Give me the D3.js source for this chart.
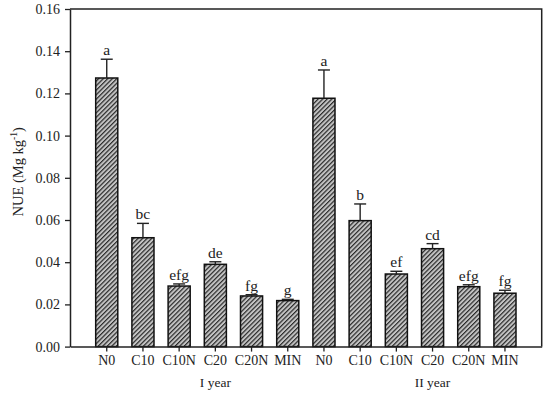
<!DOCTYPE html>
<html>
<head>
<meta charset="utf-8">
<script src="https://cdn.jsdelivr.net/npm/d3@7"></script>
<style>
  html, body { margin: 0; padding: 0; background: #fff; }
  svg text { font-family: "Liberation Serif", "Times New Roman", serif; fill: #222; }
</style>
</head>
<body>
<svg id="chart" width="550" height="396"></svg>
<script>
// data
const years = ["I year", "II year"]
const treatments = ["N0", "C10", "C10N", "C20", "C20N", "MIN"]
const nueI = [0.1273, 0.0516, 0.0287, 0.0390, 0.0240, 0.0218]
const errI = [0.0089, 0.0068, 0.0010, 0.0012, 0.0006, 0.0006]
const lettersI = ["a", "bc", "efg", "de", "fg", "g"]
const nueII = [0.1177, 0.0597, 0.0344, 0.0464, 0.0284, 0.0253]
const errII = [0.0134, 0.0079, 0.0013, 0.0024, 0.0009, 0.0014]
const lettersII = ["a", "b", "ef", "cd", "efg", "fg"]
const yTicks = [0, 0.02, 0.04, 0.06, 0.08, 0.10, 0.12, 0.14, 0.16]

let rows = []
treatments.forEach((t, i) => rows.push({ key: "I-" + t, year: years[0], t, v: nueI[i], e: errI[i], l: lettersI[i] }))
treatments.forEach((t, i) => rows.push({ key: "II-" + t, year: years[1], t, v: nueII[i], e: errII[i], l: lettersII[i] }))

let margin = { left: 70, right: 8.3, top: 9, bottom: 49.4 }
let W = 550, H = 396
let svg = d3.select("#chart")

let x = d3.scaleBand()
  .domain(rows.map(d => d.key))
  .range([margin.left, W - margin.right])
  .paddingInner(0.39)
  .paddingOuter(0.71)

let y = d3.scaleLinear()
  .domain([0, 0.16])
  .range([H - margin.bottom, margin.top])

// hatch pattern
let defs = svg.append("defs")
let pat = defs.append("pattern")
  .attr("id", "hatch")
  .attr("patternUnits", "userSpaceOnUse")
  .attr("width", 3.2).attr("height", 3.2)
  .attr("patternTransform", "rotate(45)")
pat.append("rect").attr("width", 3.2).attr("height", 3.2).attr("fill", "#c4c4c4")
pat.append("line")
  .attr("x1", 0).attr("y1", 0).attr("x2", 0).attr("y2", 3.2)
  .attr("stroke", "#2a2a2a").attr("stroke-width", 2.4)

// bars
let g = svg.append("g").attr("class", "bars")
g.selectAll("rect")
  .data(rows)
  .join("rect")
  .attr("x", d => x(d.key))
  .attr("y", d => y(d.v))
  .attr("width", x.bandwidth())
  .attr("height", d => y(0) - y(d.v))
  .attr("fill", "url(#hatch)")
  .attr("stroke", "#111")
  .attr("stroke-width", 1.5)

// error bars
let eb = svg.append("g").attr("class", "err")
  .attr("stroke", "#222").attr("stroke-width", 1.4)
rows.forEach(d => {
  let cx = x(d.key) + x.bandwidth() / 2
  eb.append("line").attr("x1", cx).attr("x2", cx).attr("y1", y(d.v)).attr("y2", y(d.v + d.e))
  eb.append("line").attr("x1", cx - 6).attr("x2", cx + 6).attr("y1", y(d.v + d.e)).attr("y2", y(d.v + d.e))
})

// significance letters
svg.append("g").selectAll("text")
  .data(rows)
  .join("text")
  .attr("x", d => x(d.key) + x.bandwidth() / 2)
  .attr("y", d => y(d.v + d.e) - 4)
  .attr("text-anchor", "middle")
  .attr("font-size", 15.5)
  .text(d => d.l)

// axes
let yAxis = svg.append("g")
  .attr("transform", `translate(${margin.left},0)`)
  .call(d3.axisLeft(y).tickValues(yTicks).tickFormat(d3.format(".2f")).tickSize(5).tickSizeOuter(0).tickPadding(5))
let xAxis = svg.append("g")
  .attr("transform", `translate(0,${y(0)})`)
  .call(d3.axisBottom(x).tickFormat(k => k.split("-")[1]).tickSize(5).tickSizeOuter(0).tickPadding(3))

;[yAxis, xAxis].forEach(a => {
  a.select(".domain").attr("stroke", "#222").attr("stroke-width", 1.5)
  a.selectAll(".tick line").attr("stroke", "#222").attr("stroke-width", 1.3)
  a.selectAll(".tick text").attr("font-size", 14).attr("font-family", "Liberation Serif").attr("fill", "#222")
})

// frame (top and right)
svg.append("path")
  .attr("d", `M${margin.left},${y(0.16)}H${W - margin.right}V${y(0)}`)
  .attr("fill", "none").attr("stroke", "#222").attr("stroke-width", 1.5)

// year labels, centred under the C20 bar of each year
svg.append("g").selectAll("text")
  .data(years)
  .join("text")
  .attr("x", (d, i) => x((i == 0 ? "I-" : "II-") + "C20") + x.bandwidth() / 2)
  .attr("y", 387)
  .attr("text-anchor", "middle")
  .attr("font-size", 13.5)
  .text(d => d)

// y title
let yt = svg.append("text")
  .attr("transform", `translate(23,${(y(0) + y(0.16)) / 2 - 6}) rotate(-90)`)
  .attr("text-anchor", "middle")
  .attr("font-size", 14.5)
yt.append("tspan").text("NUE (Mg kg")
yt.append("tspan").attr("font-size", 9.5).attr("dy", -6).text("-1")
yt.append("tspan").attr("dy", 6).text(")")
</script>
</body>
</html>
